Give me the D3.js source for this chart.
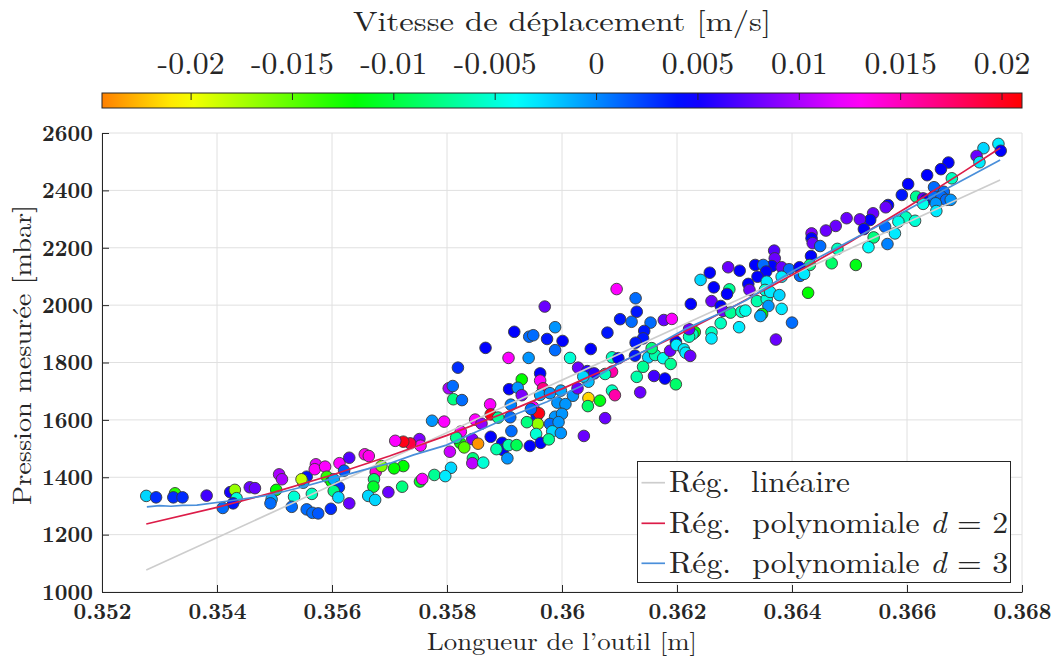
<!DOCTYPE html>
<html><head><meta charset="utf-8">
<script src="https://cdn.jsdelivr.net/npm/d3@7"></script>
<style>
html,body{margin:0;padding:0;background:#fff;}
svg{display:block;}
text{fill:#262626;}
</style></head><body>
<svg id="chart" width="1057" height="657"></svg>
<script>
// ---- scatter data: tool length [m], measured pressure [mbar], displacement speed [m/s]
const toolLength = [
0.35277,0.35294,0.35327,0.35324,0.35340,0.35382,0.35423,0.35431,0.35434,0.35428,
0.35410,0.35457,0.35466,0.35508,0.35513,0.35503,0.35495,0.35493,0.35534,0.35530,
0.35556,0.35550,0.35547,0.35565,0.35556,0.35566,0.35576,0.35598,0.35572,0.35570,
0.35588,0.35591,0.35599,0.35603,0.35613,0.35630,0.35621,0.35612,0.35603,0.35611,
0.35630,0.35657,0.35664,0.35676,0.35673,0.35672,0.35663,0.35675,0.35698,0.35686,
0.36095,0.36128,0.35970,0.36101,0.36130,0.36121,0.36154,0.36177,0.35988,0.36079,
0.36143,0.36141,0.35917,0.35943,0.35950,0.35974,0.36001,0.35988,0.36050,0.36128,
0.35867,0.35907,0.35942,0.36014,0.36087,0.36098,0.36127,0.36150,0.36162,0.36176,
0.35819,0.36028,0.36044,0.36056,0.36087,0.36075,0.36046,0.36037,0.36141,0.36130,
0.36160,0.36179,0.36136,0.36087,0.36092,0.36046,0.36045,0.36066,0.36075,0.36038,
0.35803,0.35810,0.35811,0.35826,0.35774,0.35795,0.35930,0.35962,0.35962,0.35967,
0.35908,0.35923,0.35930,0.35962,0.35979,0.35998,0.36019,0.35992,0.36006,0.35875,
0.35876,0.35889,0.35911,0.35910,0.35950,0.35956,0.35960,0.35958,0.35939,0.35988,
0.36000,0.35979,0.35994,0.35955,0.35983,0.35998,0.35963,0.35977,0.35849,0.35860,
0.35824,0.35844,0.35854,0.35876,0.35823,0.35830,0.35805,0.35752,0.35754,0.35736,
0.35724,0.35710,0.35896,0.35897,0.35905,0.35886,0.35907,0.35921,0.35944,0.35845,
0.35844,0.35863,0.35807,0.35724,0.35708,0.36027,0.35722,0.35753,0.35757,0.35778,
0.35797,0.35816,0.35912,0.35946,
0.36191,0.36224,0.36260,0.36276,0.36280,0.36293,0.36312,0.36319,0.36339,0.36356,
0.36359,0.36348,0.36345,0.36382,0.36400,0.36372,0.36308,0.36276,0.36260,0.36260,
0.36231,0.36227,0.36221,0.36221,0.36156,0.36188,0.36198,0.36199,0.36212,0.36215,
0.36223,0.36189,0.36198,
0.36759,0.36763,0.36733,0.36721,0.36726,0.36672,0.36659,0.36635,0.36678,0.36602,
0.36647,0.36591,0.36616,0.36628,0.36633,0.36646,0.36664,0.36660,0.36668,0.36676,
0.36628,0.36650,0.36651,0.36567,0.36563,0.36541,0.36536,0.36518,0.36495,0.36598,
0.36585,0.36614,0.36562,0.36525,0.36476,0.36459,0.36434,0.36579,0.36542,0.36533,
0.36566,0.36434,0.36436,0.36449,0.36479,0.36469,0.36511,0.36433,0.36431,0.36428,
0.36369,0.36370,0.36365,0.36382,0.36395,0.36413,0.36414,0.36421,0.36382,0.36336,
0.36350,0.36355,0.36340,0.36356,0.36324,0.36326,0.36309,0.36289,0.36257,0.36241,
0.36264,0.36291,0.36287,0.36353,0.36362,0.36378
];
const pressure = [
1335,1330,1344,1330,1330,1336,1348,1356,1327,1309,
1293,1365,1362,1410,1393,1356,1323,1309,1332,1297,
1402,1381,1393,1342,1288,1276,1274,1290,1445,1428,
1437,1402,1385,1393,1449,1468,1423,1365,1352,1330,
1309,1480,1474,1418,1393,1367,1335,1321,1348,1439,
2056,2024,1995,1951,1977,1942,1939,1948,1923,1904,
1910,1884,1907,1890,1895,1882,1875,1843,1847,1869,
1851,1816,1816,1816,1818,1815,1824,1818,1826,1815,
1782,1782,1770,1762,1768,1760,1733,1751,1785,1750,
1753,1744,1696,1702,1686,1676,1648,1667,1606,1544,
1710,1718,1672,1669,1597,1594,1741,1762,1737,1710,
1707,1712,1686,1687,1693,1702,1684,1660,1655,1654,
1619,1608,1653,1609,1644,1614,1623,1586,1592,1611,
1621,1586,1592,1551,1560,1554,1520,1532,1601,1587,
1559,1533,1517,1541,1520,1504,1489,1533,1510,1518,
1524,1527,1520,1495,1466,1498,1512,1512,1509,1466,
1449,1451,1433,1439,1431,1710,1367,1385,1394,1408,
1404,1538,1561,1638,
1952,2004,2014,1997,1980,1974,1977,1981,2014,2021,
1997,1969,1962,1987,1939,1880,1923,1937,1905,1884,
1906,1899,1890,1916,1850,1841,1873,1861,1846,1834,
1823,1795,1724,
2562,2538,2547,2520,2498,2497,2474,2453,2442,2422,
2411,2384,2378,2372,2367,2378,2395,2378,2367,2367,
2353,2355,2328,2349,2341,2320,2297,2299,2303,2306,
2291,2294,2273,2265,2276,2260,2250,2250,2236,2202,
2213,2233,2216,2206,2196,2146,2140,2171,2140,2043,
2190,2163,2136,2132,2125,2132,2102,2109,2099,2140,
2140,2117,2099,2082,2074,2053,2120,2132,2113,2088,
2062,2055,2039,2053,2046,2035
];
const speed = [
-0.0024,0.0031,-0.0134,0.0031,0.0031,0.0066,0.0052,-0.0168,-0.0051,0.0038,
0.0010,0.0079,0.0079,0.0100,0.0100,-0.0120,-0.0010,0.0010,-0.0051,0.0010,
0.0038,-0.0010,-0.0182,-0.0058,0.0010,0.0010,0.0017,0.0031,0.0120,0.0127,
0.0127,-0.0134,-0.0120,-0.0010,0.0127,0.0072,0.0017,0.0031,-0.0079,-0.0024,
0.0079,0.0134,0.0134,0.0141,-0.0086,-0.0106,-0.0024,-0.0024,0.0079,-0.0161,
0.0127,0.0010,0.0079,0.0038,0.0038,0.0010,0.0010,0.0079,-0.0003,0.0038,
0.0038,0.0038,0.0045,0.0010,0.0010,0.0038,0.0045,0.0010,0.0045,0.0038,
0.0045,0.0127,-0.0003,-0.0051,-0.0058,0.0045,0.0038,-0.0024,-0.0065,-0.0044,
0.0031,0.0079,0.0059,0.0059,0.0155,-0.0058,-0.0017,-0.0024,-0.0072,-0.0065,
0.0066,0.0045,0.0079,-0.0058,0.0155,-0.0216,-0.0086,-0.0113,0.0079,0.0079,
0.0100,0.0010,-0.0079,0.0010,-0.0003,0.0127,-0.0120,0.0045,0.0127,0.0168,
0.0045,-0.0003,0.0086,-0.0010,-0.0003,-0.0010,-0.0003,-0.0003,-0.0003,0.0127,
0.0203,-0.0072,0.0003,0.0010,0.0127,0.0038,0.0203,-0.0168,-0.0079,-0.0003,
-0.0003,0.0010,-0.0003,-0.0051,-0.0024,-0.0003,0.0045,-0.0072,0.0127,0.0093,
0.0127,0.0086,-0.0237,0.0045,-0.0120,-0.0147,0.0110,0.0086,0.0127,0.0190,
0.0203,0.0127,0.0045,0.0045,-0.0003,-0.0065,-0.0065,-0.0093,0.0045,-0.0079,
0.0106,-0.0051,-0.0024,-0.0120,-0.0120,0.0079,-0.0079,-0.0106,0.0127,-0.0072,
-0.0031,-0.0072,0.0010,0.0010,
0.0127,0.0045,0.0079,0.0045,0.0079,-0.0072,-0.0058,-0.0044,-0.0065,-0.0051,
-0.0003,-0.0120,-0.0010,-0.0031,0.0010,0.0079,-0.0031,-0.0058,-0.0058,-0.0031,
-0.0120,-0.0058,-0.0058,0.0079,-0.0079,0.0079,0.0045,-0.0031,-0.0031,-0.0031,
0.0079,-0.0072,-0.0086,
-0.0031,0.0045,-0.0024,0.0079,-0.0031,0.0045,0.0045,0.0045,-0.0058,0.0045,
0.0010,0.0038,-0.0072,0.0079,0.0045,0.0010,0.0010,0.0010,0.0010,-0.0003,
-0.0044,-0.0003,-0.0031,0.0045,0.0079,0.0079,0.0045,0.0079,0.0079,-0.0058,
-0.0044,-0.0051,0.0010,0.0045,0.0079,0.0079,0.0086,-0.0031,-0.0079,-0.0038,
0.0003,0.0045,0.0079,0.0010,-0.0058,-0.0086,-0.0113,0.0045,-0.0079,-0.0120,
0.0072,0.0079,0.0045,0.0079,0.0010,0.0045,0.0010,-0.0031,-0.0031,0.0045,
0.0010,0.0045,0.0045,-0.0031,0.0045,0.0079,0.0045,0.0079,0.0045,-0.0024,
0.0045,-0.0072,0.0045,-0.0051,-0.0031,-0.0024
];

// ---- fitted curves
const linLength = [0.35277, 0.36762];
const linPressure = [1077, 2436];
const quadLength = [0.35277,0.354,0.355,0.356,0.357,0.358,0.359,0.360,0.361,0.362,0.363,0.364,0.365,0.366,0.367,0.36762];
const quadPressure = [1237,1295,1348,1408,1474,1546,1624,1708,1798,1894,1997,2105,2219,2340,2467,2548];
const cubicLength = [0.35278,0.35300,0.35320,0.35340,0.35365,0.35423,0.35492,0.35550,0.35602,0.35654,0.35701,0.35742,0.35799,0.35858,0.35916,0.35974,0.36032,0.36101,0.36159,0.36217,0.36275,0.36321,0.36400,0.36471,0.36542,0.36617,0.36681,0.36762];
const cubicPressure = [1297,1301,1299,1302,1303,1318,1338,1367,1396,1425,1449,1478,1512,1565,1617,1663,1716,1800,1855,1919,1972,2018,2117,2192,2268,2350,2419,2506];

// ---- axes / colorbar ticks and labels
const xTicks = [0.352,0.354,0.356,0.358,0.360,0.362,0.364,0.366,0.368];
const xTickLabels = ["0.352","0.354","0.356","0.358","0.36","0.362","0.364","0.366","0.368"];
const yTicks = [1000,1200,1400,1600,1800,2000,2200,2400,2600];
const cTicks = [-0.02,-0.015,-0.01,-0.005,0,0.005,0.01,0.015,0.02];
const cTickLabels = ["-0.02","-0.015","-0.01","-0.005","0","0.005","0.01","0.015","0.02"];
const speedRange = [-0.02437, 0.02101];
const legendNames = ["Rég.  linéaire", "Rég.  polynomiale ", "Rég.  polynomiale "];
const legendDegrees = ["", "2", "3"];
const lineColors = ["#cdcdcd", "#dc1c48", "#4a8fda"];

// pick the first installed serif-looking family
function available(fam){
  const ctx = document.createElement("canvas").getContext("2d");
  const s = "mmmmmmmmmmlliWW0123456789";
  let diff = false;
  ["monospace","sans-serif","serif"].forEach(base=>{
    ctx.font = "72px " + base; const w0 = ctx.measureText(s).width;
    ctx.font = `72px "${fam}", ${base}`; const w1 = ctx.measureText(s).width;
    if (Math.abs(w1-w0) > 0.5) diff = true;
  });
  return diff;
}
const candidates = ["Latin Modern Roman","CMU Serif","Liberation Serif","Tinos","Times New Roman","DejaVu Serif",
  "Noto Serif","Nimbus Roman","Nimbus Roman No9 L","TeX Gyre Termes","FreeSerif","Georgia",
  "Noto Serif CJK SC","Noto Serif CJK JP","Source Serif Pro","Droid Serif","Liberation Sans","Noto Sans"];
const chosen = candidates.find(available);
const FONT = chosen ? `"${chosen}", serif` : "serif";
d3.select("style").text(d3.select("style").text() + `text{font-family:${FONT};}`);

const svg = d3.select("#chart");
const P = {left:102, right:1022, top:133, bottom:592};
const x = d3.scaleLinear().domain([0.352,0.368]).range([P.left,P.right]);
const y = d3.scaleLinear().domain([1000,2600]).range([P.bottom,P.top]);
const hue = d3.scaleLinear().domain(speedRange).range([30,360]);
const color = v => d3.hsl(hue(v) % 360, 1, 0.5).formatHex();

function fit(sel, w){ sel.attr("textLength", w).attr("lengthAdjust","spacingAndGlyphs"); }
function sizeFor(sample, width, weight){
  const t = svg.append("text").style("font-family",FONT).style("font-size","100px")
    .style("font-weight",weight).text(sample);
  const w = t.node().getComputedTextLength();
  t.remove();
  return 100*width/w;
}
const tickSize = sizeFor("0.354", 58, "bold");
const cbSize = sizeFor("-0.015", 83, "normal");

// grid
const grid = svg.append("g");
grid.selectAll("line.gx").data(xTicks).join("line")
  .attr("x1", d=>x(d)).attr("x2", d=>x(d)).attr("y1", P.top).attr("y2", P.bottom)
  .attr("stroke", "#e0e0e0").attr("stroke-width", 1);
grid.selectAll("line.gy").data(yTicks).join("line")
  .attr("x1", P.left).attr("x2", P.right).attr("y1", d=>y(d)).attr("y2", d=>y(d))
  .attr("stroke", "#e0e0e0").attr("stroke-width", 1);

// scatter
svg.append("g").selectAll("circle").data(d3.range(toolLength.length)).join("circle")
  .attr("cx", i=>x(toolLength[i])).attr("cy", i=>y(pressure[i])).attr("r", 5.8)
  .attr("fill", i=>color(speed[i])).attr("stroke", "#3a3a3a").attr("stroke-width", 0.9);

// regression lines
const line = d3.line().x(d=>x(d[0])).y(d=>y(d[1]));
const curves = [
  d3.zip(linLength, linPressure),
  d3.zip(quadLength, quadPressure),
  d3.zip(cubicLength, cubicPressure)
];
svg.append("g").selectAll("path").data(curves).join("path")
  .attr("d", line).attr("fill","none")
  .attr("stroke", (d,i)=>lineColors[i]).attr("stroke-width", 1.7);

// axes
const xAxis = svg.append("g").attr("transform", `translate(0,${P.bottom})`)
  .call(d3.axisBottom(x).tickValues(xTicks).tickFormat((d,i)=>xTickLabels[i]).tickSizeInner(-7).tickSizeOuter(0).tickPadding(11));
const yAxis = svg.append("g").attr("transform", `translate(${P.left},0)`)
  .call(d3.axisLeft(y).tickValues(yTicks).tickFormat(d3.format("d")).tickSizeInner(-7).tickSizeOuter(0).tickPadding(9));
[xAxis, yAxis].forEach(a=>{
  a.attr("font-family", null);
  a.select(".domain").attr("stroke","#262626").attr("stroke-width",1);
  a.selectAll(".tick line").attr("stroke","#262626");
  a.selectAll(".tick text").attr("fill","#262626")
    .style("font-family",FONT).style("font-size",tickSize+"px")
    .style("font-weight","bold");
});
yAxis.selectAll(".tick text").attr("dy","0.33em");

// axis labels
svg.append("text").attr("x", 562).attr("y", 650).attr("text-anchor","middle")
  .style("font-size","24px").text("Longueur de l’outil [m]").call(fit, 270);
svg.append("text").attr("transform","translate(31,355) rotate(-90)").attr("text-anchor","middle")
  .style("font-size","26px").text("Pression mesurée [mbar]").call(fit, 300);

// colorbar
const cb = {x0:102, x1:1022, y0:93, y1:108};
const c = d3.scaleLinear().domain(speedRange).range([cb.x0, cb.x1]);
const grad = svg.append("defs").append("linearGradient").attr("id","cbgrad");
d3.range(0, 1.0001, 1/40).forEach(t=>{
  const v = speedRange[0] + t*(speedRange[1]-speedRange[0]);
  grad.append("stop").attr("offset", (t*100)+"%").attr("stop-color", color(v));
});
svg.append("rect").attr("x",cb.x0).attr("y",cb.y0).attr("width",cb.x1-cb.x0).attr("height",cb.y1-cb.y0)
  .attr("fill","url(#cbgrad)").attr("stroke","#262626").attr("stroke-width",1);
const cAxis = svg.append("g").attr("transform",`translate(0,${cb.y0})`)
  .call(d3.axisTop(c).tickValues(cTicks).tickFormat((d,i)=>cTickLabels[i]).tickSizeInner(-7).tickSizeOuter(0).tickPadding(19));
cAxis.attr("font-family", null);
cAxis.select(".domain").remove();
cAxis.selectAll(".tick line").attr("stroke","#262626");
cAxis.selectAll(".tick text").attr("fill","#262626")
  .style("font-family",FONT).style("font-size",cbSize+"px");
svg.append("text").attr("x", 562).attr("y", 31).attr("text-anchor","middle")
  .style("font-size","28px").text("Vitesse de déplacement [m/s]").call(fit, 418);

// legend
const lg = svg.append("g");
lg.append("rect").attr("x",637.5).attr("y",461.5).attr("width",373).attr("height",121)
  .attr("fill","#fff").attr("stroke","#262626").attr("stroke-width",1);
const rowsY = [482.7, 523.3, 563.3];
const legendWidths = [181, 339, 339];
rowsY.forEach((ry,i)=>{
  lg.append("line").attr("x1",641.5).attr("x2",665).attr("y1",ry).attr("y2",ry)
    .attr("stroke",lineColors[i]).attr("stroke-width",1.7);
  const t = lg.append("text").attr("x",669).attr("y",ry+9.5).style("font-size","30px").style("white-space","pre");
  t.append("tspan").text(legendNames[i]);
  if (legendDegrees[i]) {
    t.append("tspan").style("font-style","italic").text("d");
    t.append("tspan").text(" = " + legendDegrees[i]);
  }
  t.call(fit, legendWidths[i]);
});
</script>
</body></html>
